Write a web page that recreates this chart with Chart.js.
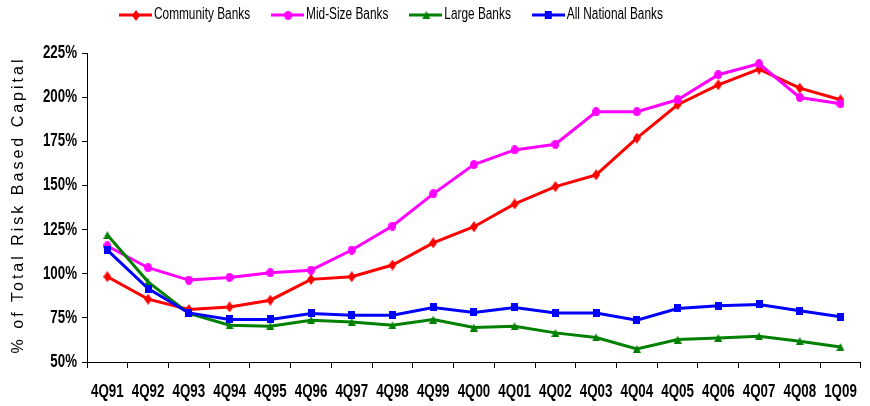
<!DOCTYPE html>
<html>
<head>
<meta charset="utf-8">
<script src="https://cdn.jsdelivr.net/npm/chart.js@4/dist/chart.umd.min.js"></script>
<style>
  html, body { margin: 0; padding: 0; background: #fff; }
  #wrap { width: 870px; height: 406px; }
</style>
</head>
<body>
<div id="wrap"><canvas id="c" width="870" height="406"></canvas></div>
<script>
// Quarterly periods
const periods = ['4Q91','4Q92','4Q93','4Q94','4Q95','4Q96','4Q97','4Q98','4Q99','4Q00',
                 '4Q01','4Q02','4Q03','4Q04','4Q05','4Q06','4Q07','4Q08','1Q09'];

// Concentration as % of total risk based capital
const communityBanks = [98.3, 85.6, 79.7, 81.2, 85.0, 96.8, 98.3, 104.9, 117.5, 126.6,
                        139.5, 149.3, 156.0, 176.8, 195.7, 207.0, 215.9, 205.1, 198.5];
const midSizeBanks   = [115.7, 103.4, 96.4, 97.9, 100.5, 102.0, 113.4, 127.0, 145.2, 161.8,
                        170.1, 173.3, 191.7, 191.7, 198.5, 212.7, 218.9, 199.8, 196.2];
const largeBanks     = [121.9, 95.4, 77.5, 70.8, 70.3, 73.7, 72.7, 70.8, 74.0, 69.5,
                        70.3, 66.5, 63.9, 57.4, 62.7, 63.6, 64.6, 61.8, 58.5];
const allNational    = [113.4, 91.6, 77.8, 74.1, 74.1, 77.5, 76.5, 76.5, 80.9, 78.1,
                        80.9, 77.8, 77.8, 73.7, 80.3, 81.8, 82.6, 79.0, 75.6];

const seriesNames = ['Community Banks', 'Mid-Size Banks', 'Large Banks', 'All National Banks'];

// Y axis range and tick step (percent)
const yMin = 50, yMax = 225, yStep = 25;
const yTitle = '% of Total Risk Based Capital';

const FAMILY = '"Liberation Sans", Arial, Helvetica, sans-serif';
const TICK_SIZE = 18;
const LEGEND_SIZE = 16;

// Condensed text: tick and legend text is drawn horizontally compressed
const canvas = document.getElementById('c');
const ctx2d = canvas.getContext('2d');
const TEXT_SQUEEZE = 0.74;
let squeeze = TEXT_SQUEEZE;
const rawFillText = ctx2d.fillText;
const rawMeasureText = ctx2d.measureText;
ctx2d.fillText = function (text, x, y, maxWidth) {
  if (squeeze === 1) {
    return maxWidth === undefined ? rawFillText.call(this, text, x, y)
                                  : rawFillText.call(this, text, x, y, maxWidth);
  }
  this.save();
  this.translate(x, y);
  this.scale(squeeze, 1);
  rawFillText.call(this, text, 0, 0);
  this.restore();
};
ctx2d.measureText = function (text) {
  const m = rawMeasureText.call(this, text);
  if (squeeze === 1) return m;
  return {
    width: m.width * squeeze,
    actualBoundingBoxLeft: m.actualBoundingBoxLeft * squeeze,
    actualBoundingBoxRight: m.actualBoundingBoxRight * squeeze,
    actualBoundingBoxAscent: m.actualBoundingBoxAscent,
    actualBoundingBoxDescent: m.actualBoundingBoxDescent,
    fontBoundingBoxAscent: m.fontBoundingBoxAscent,
    fontBoundingBoxDescent: m.fontBoundingBoxDescent
  };
};

// Series markers, slightly taller than wide
function marker(color, shape) {
  const c = document.createElement('canvas');
  const size = { diamond: [8, 11], circle: [8, 9], triangle: [8, 8], square: [7, 8] }[shape];
  c.width = size[0];
  c.height = size[1];
  const g = c.getContext('2d');
  g.fillStyle = color;
  g.beginPath();
  if (shape === 'diamond') {
    g.moveTo(4, 0); g.lineTo(8, 5.5); g.lineTo(4, 11); g.lineTo(0, 5.5);
  } else if (shape === 'circle') {
    g.ellipse(4, 4.5, 4, 4.5, 0, 0, Math.PI * 2);
  } else if (shape === 'triangle') {
    g.moveTo(4, 0); g.lineTo(8, 8); g.lineTo(0, 8);
  } else {
    g.rect(0, 0, 7, 8);
  }
  g.closePath();
  g.fill();
  return c;
}

// Legend swatch: a short line with the series marker in its middle
function swatch(color, mark) {
  const c = document.createElement('canvas');
  c.width = 33;
  c.height = 12;
  const g = c.getContext('2d');
  g.strokeStyle = color;
  g.lineWidth = 3;
  g.beginPath(); g.moveTo(0, 6); g.lineTo(33, 6); g.stroke();
  g.drawImage(mark, Math.round((33 - mark.width) / 2), Math.round((12 - mark.height) / 2));
  return c;
}

const styles = [
  { color: '#FF0000', shape: 'diamond',  order: 4 },
  { color: '#FF00FF', shape: 'circle',   order: 3 },
  { color: '#008000', shape: 'triangle', order: 2 },
  { color: '#0000FF', shape: 'square',   order: 1 }
];
const values = [communityBanks, midSizeBanks, largeBanks, allNational];

const datasets = values.map((v, i) => {
  const mk = marker(styles[i].color, styles[i].shape);
  return {
    label: seriesNames[i],
    data: v,
    borderColor: styles[i].color,
    backgroundColor: styles[i].color,
    borderWidth: 3,
    pointStyle: mk,
    pointRadius: 5,
    pointBackgroundColor: styles[i].color,
    pointBorderColor: styles[i].color,
    tension: 0,
    order: styles[i].order,
    legendSwatch: swatch(styles[i].color, mk)
  };
});

// Legend placement (first item x, text centre y)
const LEGEND_X = 125, LEGEND_Y = 15;
const LEGEND_PAD = 27;

const legendPlace = {
  id: 'legendPlace',
  afterLayout(chart) {
    const lg = chart.legend;
    if (!lg) return;
    const w = lg.right - lg.left;
    lg.left = LEGEND_X - LEGEND_PAD;
    lg.right = lg.left + w;
    const h = lg.bottom - lg.top;
    lg.top = LEGEND_Y - LEGEND_PAD - LEGEND_SIZE / 2;
    lg.bottom = lg.top + h;
  }
};

// Rotated, letter-spaced y axis title (drawn at normal width)
const yTitlePlugin = {
  id: 'yTitle',
  afterDraw(chart) {
    const ctx = chart.ctx;
    const area = chart.chartArea;
    squeeze = 1;
    ctx.save();
    ctx.translate(19, (area.top + area.bottom) / 2 - 1);
    ctx.rotate(-Math.PI / 2);
    ctx.font = '16px ' + FAMILY;
    ctx.fillStyle = '#000';
    ctx.textAlign = 'center';
    ctx.textBaseline = 'middle';
    if ('letterSpacing' in ctx) ctx.letterSpacing = '3px';
    ctx.fillText(yTitle, 1.5, 0);
    ctx.restore();
    squeeze = TEXT_SQUEEZE;
  }
};

new Chart(canvas, {
  type: 'line',
  data: { labels: periods, datasets },
  plugins: [legendPlace, yTitlePlugin],
  options: {
    responsive: false,
    devicePixelRatio: 1,
    animation: false,
    layout: { padding: { top: 0, right: 2, bottom: 0, left: 0 } },
    plugins: {
      tooltip: { enabled: false },
      legend: {
        display: true,
        position: 'top',
        align: 'start',
        labels: {
          usePointStyle: true,
          pointStyleWidth: 21,
          padding: LEGEND_PAD,
          color: '#000',
          font: { family: FAMILY, size: LEGEND_SIZE },
          sort: (a, b) => a.datasetIndex - b.datasetIndex,
          generateLabels(chart) {
            return chart.data.datasets.map((ds, i) => ({
              text: ds.label,
              datasetIndex: i,
              pointStyle: ds.legendSwatch,
              fillStyle: ds.borderColor,
              strokeStyle: ds.borderColor,
              lineWidth: 0,
              hidden: false
            }));
          }
        }
      }
    },
    scales: {
      x: {
        type: 'category',
        offset: true,
        grid: {
          display: true,
          offset: true,
          drawOnChartArea: false,
          drawTicks: true,
          tickLength: 6,
          tickColor: '#000'
        },
        border: { display: true, color: '#000', width: 1 },
        ticks: {
          autoSkip: false,
          maxRotation: 0,
          minRotation: 0,
          padding: 13,
          color: '#000',
          font: { family: FAMILY, size: TICK_SIZE, weight: 'bold' }
        },
        afterFit(scale) { scale.height = 44; }
      },
      y: {
        min: yMin,
        max: yMax,
        grid: {
          display: true,
          drawOnChartArea: false,
          drawTicks: true,
          tickLength: 5,
          tickColor: '#000'
        },
        border: { display: true, color: '#000', width: 1 },
        ticks: {
          stepSize: yStep,
          padding: 5,
          color: '#000',
          font: { family: FAMILY, size: TICK_SIZE, weight: 'bold' },
          callback: (v) => v + '%'
        },
        afterFit(scale) { scale.width = 87; }
      }
    }
  }
});
</script>
</body>
</html>
